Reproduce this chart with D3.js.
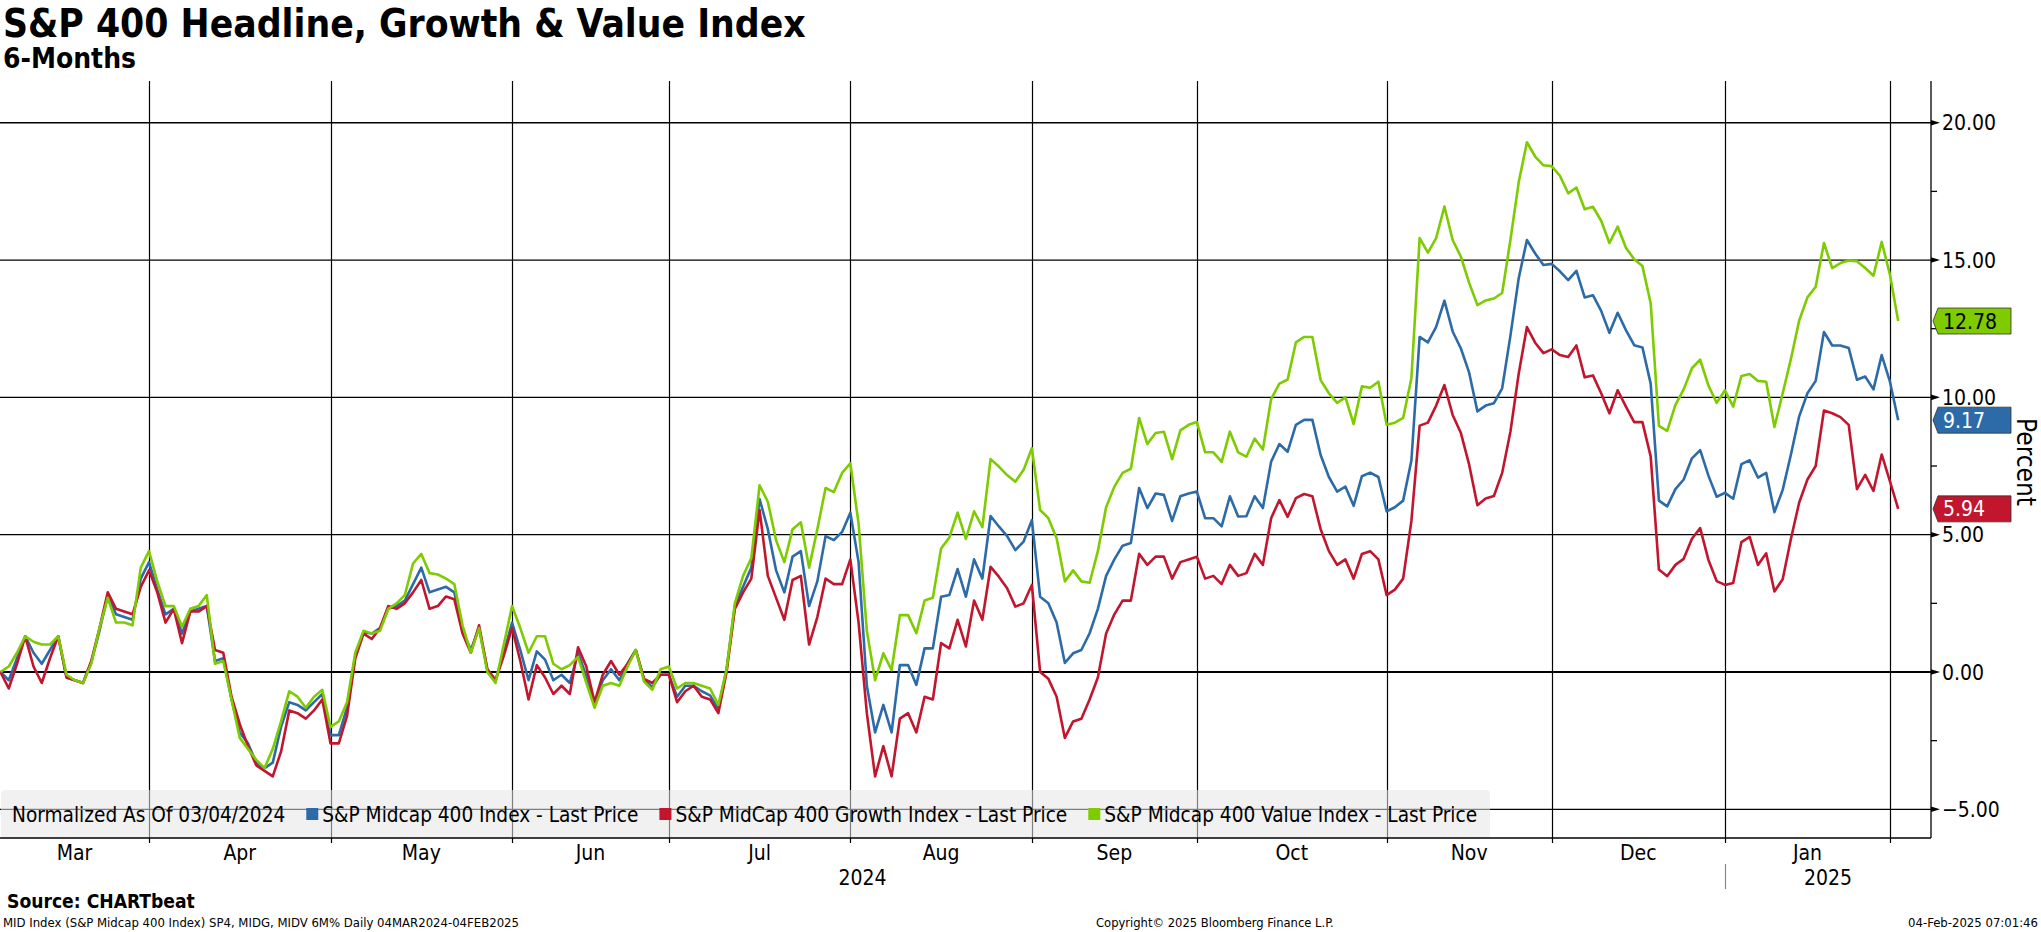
<!DOCTYPE html>
<html><head><meta charset="utf-8">
<script src="https://cdn.jsdelivr.net/npm/d3@7"></script>
<style>
html,body{margin:0;padding:0;background:#fff;}
svg{display:block;}
text{font-family:"DejaVu Sans Condensed","DejaVu Sans",sans-serif;fill:#000;}
</style></head><body>
<svg id="chart" width="2041" height="932"></svg>
<script>
// ---------------- DATA (trading days 04-Mar-2024 .. 03-Feb-2025, % change normalized) ----------------
const headline = [
 0,-0.3,0.5,1.3,0.7,0.3,0.8,1.3,-0.2,-0.3,
 -0.4,0.35,1.5,2.8,2.1,2.0,1.9,3.4,4.0,3.0,
 2.1,2.3,1.4,2.2,2.3,2.4,0.4,0.5,-1.0,-2.2,
 -2.6,-3.3,-3.5,-3.3,-2.0,-1.1,-1.2,-1.4,-1.1,-0.8,
 -2.3,-2.3,-1.3,0.6,1.45,1.4,1.6,2.3,2.4,2.6,
 3.2,3.8,2.9,3.0,3.1,2.9,1.5,0.8,1.6,0.1,
 -0.3,0.7,1.8,0.8,-0.3,0.75,0.45,-0.3,-0.1,-0.4,
 0.7,-0.15,-1.1,-0.3,0.1,-0.3,0.3,0.8,-0.3,-0.55,
 -0.1,-0.1,-0.9,-0.5,-0.5,-0.7,-0.85,-1.35,0.1,2.4,
 3.1,3.8,6.3,5.2,3.7,2.9,4.2,4.4,2.4,3.3,
 4.95,4.8,5.1,5.8,4.0,-0.5,-2.2,-1.2,-2.2,0.25,
 0.25,-0.47,0.86,0.86,2.74,2.8,3.75,2.74,4.1,3.4,
 5.68,5.3,4.95,4.44,4.75,5.53,2.74,2.5,1.8,0.33,
 0.68,0.8,1.41,2.3,3.5,4.1,4.6,4.7,6.7,5.97,
 6.5,6.45,5.5,6.4,6.5,6.57,5.6,5.6,5.3,6.4,
 5.66,5.67,6.4,5.97,7.66,8.3,8.02,9.0,9.18,9.18,
 7.9,7.1,6.57,6.75,6.05,7.13,7.26,7.1,5.85,6.0,
 6.24,7.7,12.2,12.0,12.57,13.52,12.4,11.78,10.9,9.49,
 9.7,9.79,10.33,12.24,14.33,15.73,15.24,14.82,14.86,14.59,
 14.27,14.61,13.64,13.72,13.15,12.35,13.08,12.45,11.9,11.82,
 10.5,6.24,6.03,6.66,7.01,7.78,8.08,7.15,6.38,6.52,
 6.31,7.57,7.71,7.08,7.25,5.82,6.63,7.92,9.31,10.15,
 10.6,12.38,11.89,11.89,11.8,10.64,10.76,10.29,11.54,10.57,
 9.17];
const growth = [
 0,-0.6,0.3,1.3,0.2,-0.4,0.5,1.3,-0.2,-0.3,
 -0.4,0.4,1.6,2.9,2.3,2.2,2.1,3.1,3.7,2.9,
 1.8,2.3,1.05,2.2,2.2,2.4,0.8,0.7,-0.9,-1.9,
 -2.7,-3.4,-3.6,-3.8,-2.9,-1.4,-1.5,-1.7,-1.4,-1.0,
 -2.6,-2.6,-1.6,0.5,1.4,1.2,1.6,2.4,2.3,2.5,
 2.9,3.35,2.3,2.4,2.75,2.65,1.4,0.7,1.7,0.1,
 -0.3,0.6,1.6,0.4,-1.0,0.25,-0.2,-0.8,-0.5,-0.8,
 0.9,0.2,-1.1,-0.1,0.4,-0.1,0.3,0.8,-0.25,-0.4,
 -0.1,-0.1,-1.1,-0.7,-0.5,-0.9,-1.0,-1.5,0.0,2.3,
 2.9,3.4,5.9,3.5,2.7,1.9,3.35,3.5,1.0,2.0,
 3.4,3.2,3.2,4.1,1.8,-1.5,-3.8,-2.7,-3.8,-1.7,
 -1.5,-2.2,-0.9,-1.0,1.05,0.86,1.9,0.93,2.6,1.9,
 3.83,3.47,3.05,2.38,2.5,3.17,0.0,-0.25,-0.9,-2.4,
 -1.8,-1.7,-1.0,-0.2,1.4,2.1,2.6,2.6,4.3,3.9,
 4.2,4.2,3.4,4.0,4.1,4.2,3.4,3.5,3.2,3.9,
 3.5,3.6,4.3,3.9,5.6,6.26,5.65,6.33,6.48,6.4,
 5.2,4.4,3.9,4.1,3.4,4.3,4.4,4.1,2.8,3.0,
 3.4,5.5,8.97,9.08,9.7,10.45,9.36,8.7,7.55,6.07,
 6.32,6.41,7.25,8.75,10.85,12.56,11.99,11.61,11.75,11.54,
 11.47,11.89,10.73,10.8,10.15,9.42,10.26,9.66,9.1,9.1,
 7.85,3.73,3.49,3.9,4.12,4.85,5.24,4.08,3.31,3.17,
 3.24,4.73,4.92,3.9,4.32,2.93,3.38,4.85,6.17,7.01,
 7.5,9.52,9.42,9.28,9.0,6.66,7.18,6.59,7.92,6.94,
 5.94];
const valueIdx = [
 0,0.2,0.7,1.3,1.1,1.0,1.0,1.3,-0.1,-0.3,
 -0.4,0.3,1.6,2.7,1.8,1.8,1.7,3.8,4.4,3.3,
 2.4,2.4,1.65,2.3,2.4,2.8,0.3,0.4,-1.0,-2.4,
 -2.8,-3.2,-3.5,-2.8,-1.8,-0.7,-0.9,-1.3,-0.9,-0.65,
 -2.0,-1.8,-1.1,0.7,1.5,1.4,1.5,2.3,2.5,2.8,
 3.95,4.3,3.6,3.55,3.4,3.2,1.7,0.7,1.6,0.0,
 -0.4,1.0,2.4,1.6,0.7,1.3,1.3,0.3,0.1,0.25,
 0.55,-0.4,-1.3,-0.5,-0.4,-0.5,0.2,0.8,-0.35,-0.65,
 0.1,0.2,-0.6,-0.4,-0.4,-0.5,-0.6,-1.2,0.1,2.5,
 3.5,4.15,6.8,6.2,4.8,4.0,5.2,5.45,3.8,5.2,
 6.7,6.55,7.25,7.6,5.4,1.5,-0.3,0.68,0.07,2.07,
 2.07,1.41,2.6,2.7,4.5,4.9,5.8,4.85,5.85,5.27,
 7.75,7.48,7.17,6.93,7.36,8.15,5.9,5.6,4.87,3.3,
 3.7,3.3,3.25,4.4,6.0,6.75,7.25,7.4,9.25,8.3,
 8.7,8.75,7.75,8.8,9.0,9.1,8.0,8.0,7.65,8.75,
 8.0,7.84,8.5,8.1,9.94,10.5,10.65,12.0,12.2,12.2,
 10.63,10.15,9.8,10.0,9.03,10.4,10.35,10.57,9.0,9.08,
 9.25,10.7,15.8,15.27,15.8,16.95,15.73,15.12,14.17,13.36,
 13.53,13.6,13.8,15.73,17.82,19.29,18.77,18.45,18.42,18.07,
 17.43,17.64,16.85,16.94,16.43,15.62,16.22,15.45,15.03,14.78,
 13.43,8.96,8.78,9.73,10.29,11.06,11.37,10.43,9.8,10.26,
 9.66,10.78,10.85,10.6,10.57,8.92,10.15,11.4,12.8,13.64,
 14.03,15.62,14.71,14.89,14.98,14.96,14.71,14.43,15.66,14.47,
 12.78];

const seriesNames = ["S&P Midcap 400 Index - Last Price","S&P MidCap 400 Growth Index - Last Price","S&P Midcap 400 Value Index - Last Price"];
const monthLabels = ["Mar","Apr","May","Jun","Jul","Aug","Sep","Oct","Nov","Dec","Jan"];
const monthEndIdx = [18,40,62,81,103,125,145,168,188,209,229]; // last trading day of each month (grid boundaries)
const yearLabels = ["2024","2025"];
const yearEndIdx = [209];
const yMajorTicks = [-5,0,5,10,15,20];
const yMinorTicks = [-2.5,2.5,7.5,12.5,17.5];
const legendNote = "Normalized As Of 03/04/2024";
const titleText = "S&P 400 Headline, Growth & Value Index";
const subtitleText = "6-Months";
const sourceText = "Source: CHARTbeat";
const footLeft = "MID Index (S&P Midcap 400 Index) SP4, MIDG, MIDV 6M%  Daily 04MAR2024-04FEB2025";
const footMid = "Copyright\u00A9 2025 Bloomberg Finance L.P.";
const footRight = "04-Feb-2025 07:01:46";
const axisTitle = "Percent";

// ---------------- STYLE / LAYOUT ----------------
const colors = {headline:"#2c6ba7", growth:"#c1162e", value:"#7ecb00"};
const labelText = {headline:"#fff", growth:"#fff", value:"#000"};
const P = {left:0, right:1931, top:81, bottom:838};

const svg = d3.select("#chart");
const x = d3.scaleLinear().domain([0, headline.length-1]).range([0.5, 1898.2]);
const y = d3.scaleLinear().domain([-6.045, 21.52]).range([P.bottom, P.top]);

function fit(sel, w){
  const cur = parseFloat(sel.attr("font-size"));
  const len = sel.node().getComputedTextLength();
  sel.attr("font-size", (cur*w/len).toFixed(2));
}

// Titles
const t1 = svg.append("text").attr("x",3).attr("y",37).attr("font-size",36).attr("font-weight","bold").text(titleText);
fit(t1, 803);
const t2 = svg.append("text").attr("x",3).attr("y",68).attr("font-size",26).attr("font-weight","bold").text(subtitleText);
fit(t2, 133);

// Grid
const grid = svg.append("g");
grid.selectAll("line.h").data(yMajorTicks).join("line")
  .attr("x1",P.left).attr("x2",P.right).attr("y1",d=>y(d)).attr("y2",d=>y(d))
  .attr("stroke","#000").attr("stroke-width",d=>d===0?2:1.3);
grid.selectAll("line.v").data(monthEndIdx).join("line")
  .attr("x1",d=>Math.round(x(d))+0.5).attr("x2",d=>Math.round(x(d))+0.5)
  .attr("y1",P.top).attr("y2",P.bottom+5)
  .attr("stroke","#000").attr("stroke-width",1.2);

// Legend box (semi-transparent over grid)
const lg = svg.append("g");
lg.append("rect").attr("x",1).attr("y",790).attr("width",1489).attr("height",P.bottom-790)
  .attr("rx",4).attr("fill","#e6e6e6").attr("fill-opacity",0.55);

// Axes lines
svg.append("line").attr("x1",P.left).attr("x2",P.right).attr("y1",P.bottom).attr("y2",P.bottom).attr("stroke","#000").attr("stroke-width",1.6);
svg.append("line").attr("x1",P.right).attr("x2",P.right).attr("y1",P.top).attr("y2",P.bottom).attr("stroke","#000").attr("stroke-width",1.3);

// Right axis ticks
const ax = svg.append("g");
ax.selectAll("path.arrow").data(yMajorTicks).join("path")
  .attr("d",d=>`M${P.right},${y(d)-2.8}L${P.right+9},${y(d)}L${P.right},${y(d)+2.8}Z`).attr("fill","#000");
ax.selectAll("line.minor").data(yMinorTicks).join("line")
  .attr("x1",P.right).attr("x2",P.right+6).attr("y1",d=>y(d)).attr("y2",d=>y(d)).attr("stroke","#000").attr("stroke-width",1.3);
ax.selectAll("text.tl").data(yMajorTicks).join("text")
  .attr("x",P.right+11).attr("y",d=>y(d)).attr("dy","0.36em").attr("font-size",21)
  .text(d=>d3.format(".2f")(d));

// Percent label
svg.append("text").attr("transform",`translate(2017,462) rotate(90)`).attr("text-anchor","middle")
  .attr("font-size",26).text(axisTitle);

// Month labels
const edges = [P.left, ...monthEndIdx.map(d=>x(d)), P.right];
svg.selectAll("text.m").data(monthLabels).join("text")
  .attr("x",(d,i)=>(edges[i]+edges[i+1])/2).attr("y",860).attr("text-anchor","middle").attr("font-size",21).text(d=>d);
const yEdges = [P.left, ...yearEndIdx.map(d=>x(d)), P.right];
svg.selectAll("text.yr").data(yearLabels).join("text")
  .attr("x",(d,i)=>(yEdges[i]+yEdges[i+1])/2).attr("y",885).attr("text-anchor","middle").attr("font-size",21).text(d=>d);
svg.selectAll("line.ysep").data(yearEndIdx).join("line")
  .attr("x1",d=>Math.round(x(d))+0.5).attr("x2",d=>Math.round(x(d))+0.5).attr("y1",864).attr("y2",889)
  .attr("stroke","#888").attr("stroke-width",1.2);

// Lines
const clip = svg.append("clipPath").attr("id","pc").append("rect")
  .attr("x",P.left).attr("y",P.top).attr("width",P.right-P.left).attr("height",P.bottom-P.top);
const line = d3.line().x((d,i)=>x(i)).y(d=>y(d));
const series = [
  {key:"headline", data:headline, name:seriesNames[0]},
  {key:"growth", data:growth, name:seriesNames[1]},
  {key:"value", data:valueIdx, name:seriesNames[2]}
];
const lines = svg.append("g").attr("clip-path","url(#pc)");
lines.selectAll("path").data(series).join("path")
  .attr("d",d=>line(d.data)).attr("fill","none")
  .attr("stroke",d=>colors[d.key]).attr("stroke-width",2.6).attr("stroke-linejoin","round");

// Legend contents
const legFont = 19;
const note = lg.append("text").attr("x",12).attr("y",822).attr("font-size",legFont).text(legendNote);
const items = series.map(s=>lg.append("text").attr("y",822).attr("font-size",legFont).text(s.name));
// fit total legend text width
const targetTotal = 273+318+389+375;
let total = note.node().getComputedTextLength() + items.reduce((a,t)=>a+t.node().getComputedTextLength(),0);
const fs = legFont*targetTotal/total;
note.attr("font-size",fs); items.forEach(t=>t.attr("font-size",fs));
let cx = 12 + note.node().getComputedTextLength() + 21;
series.forEach((s,i)=>{
  lg.append("rect").attr("x",cx).attr("y",808).attr("width",12).attr("height",12).attr("fill",colors[s.key]);
  items[i].attr("x",cx+16);
  cx += 16 + items[i].node().getComputedTextLength() + 21;
});

// Last value labels
const lastG = svg.append("g");
series.forEach(s=>{
  const v = s.data[s.data.length-1];
  const cy = y(v);
  lastG.append("path")
    .attr("d",`M${P.right+2},${cy}L${P.right+7},${cy-13}L${P.right+80},${cy-13}L${P.right+80},${cy+13}L${P.right+7},${cy+13}Z`)
    .attr("fill",colors[s.key]).attr("stroke","#333").attr("stroke-width",0.8);
  lastG.append("text").attr("x",P.right+12).attr("y",cy).attr("dy","0.36em").attr("font-size",21)
    .style("fill",labelText[s.key]).text(d3.format(".2f")(v));
});

// Footer
const src = svg.append("text").attr("x",7).attr("y",908).attr("font-size",18).attr("font-weight","bold").text(sourceText);
fit(src, 188);
const fl = svg.append("text").attr("x",3).attr("y",927).attr("font-size",13).text(footLeft);
const fm = svg.append("text").attr("x",1096).attr("y",927).attr("font-size",13).text(footMid);
const fr = svg.append("text").attr("x",2038).attr("y",927).attr("font-size",13).attr("text-anchor","end").text(footRight);
fit(fm, 238); fit(fr, 130);
</script>
</body></html>
